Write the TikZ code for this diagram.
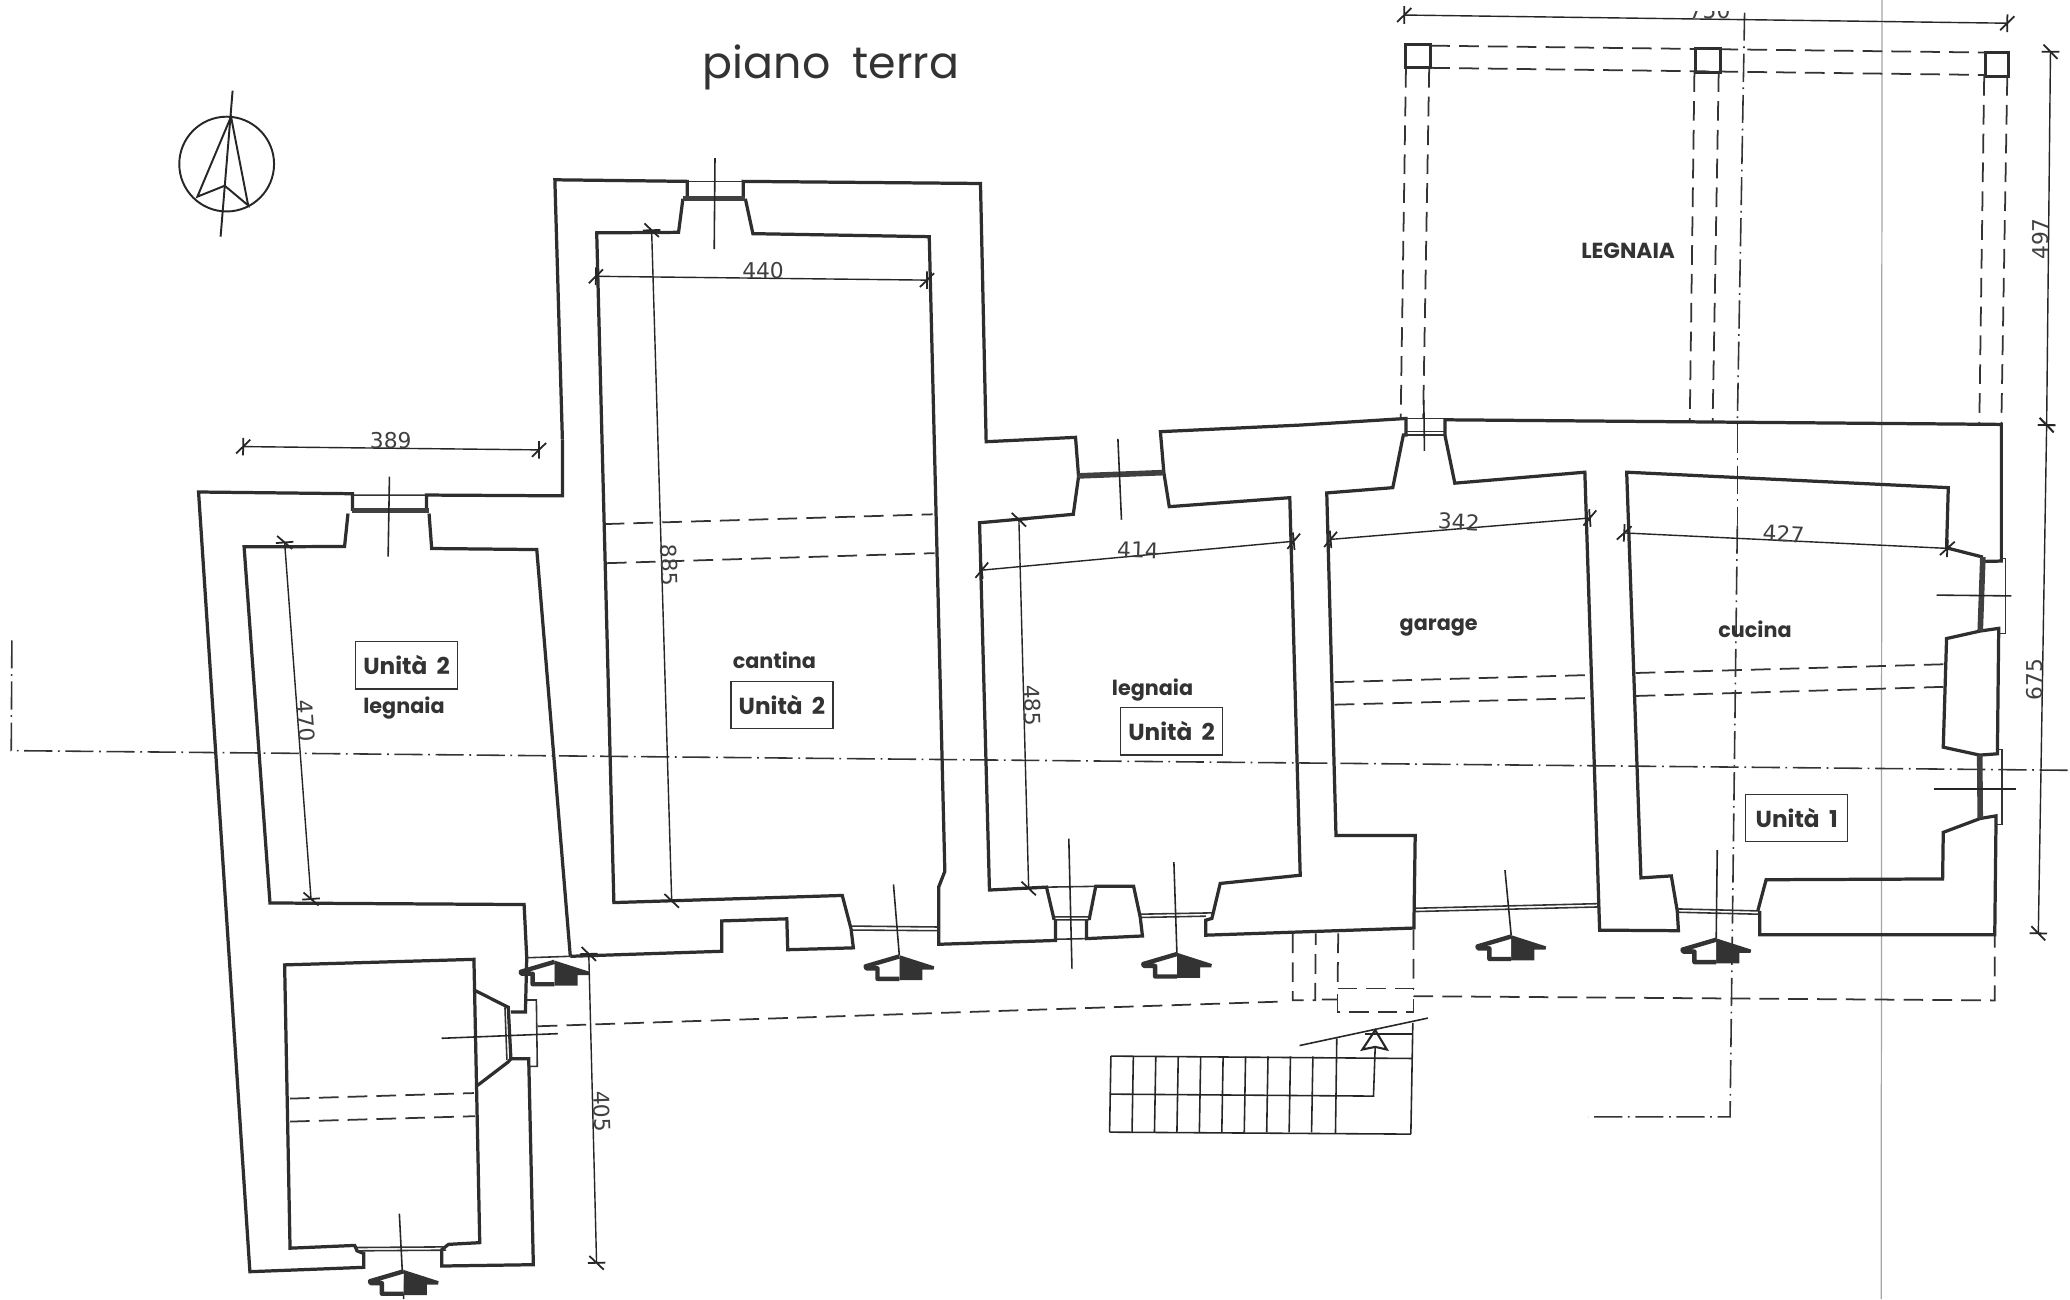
\documentclass[tikz,border=0pt]{standalone}
\usepackage{fontspec}
\setmainfont{Poppins}
\newfontfamily\dimfont{DejaVu Sans}
\usetikzlibrary{decorations.markings}
\tikzset{wall/.style={line width=0.92pt,line join=miter,black!82},
    thinwall/.style={line width=0.45pt,black!80},
    pane/.style={line width=1.6pt,black!75},
    hidden/.style={line width=0.5pt,black!80,dash pattern=on 5.6pt off 2.6pt},
    axisline/.style={line width=0.45pt,black!80,dash pattern=on 8pt off 1.6pt on 0.5pt off 1.6pt},
    cutline/.style={line width=0.45pt,black!85},
    stairline/.style={line width=0.45pt,black!85},
    roomlabel/.style={font=\fontsize{5.9}{7}\selectfont\bfseries,black!80,inner sep=0pt},
    unitbox/.style={draw,line width=0.4pt,black!80,font=\fontsize{6.6}{8}\selectfont\bfseries,minimum width=29pt,minimum height=13.5pt,inner sep=0pt},
    dimlabel/.style={font=\dimfont\fontsize{6.2}{7}\selectfont,black!75,inner sep=0pt},
    dimline/.style={line width=0.4pt,black!85,
        decoration={markings,
            mark=at position 0 with {\draw[line width=0.5pt] (-2pt,-2pt) -- (2pt,2pt) (0pt,-2.5pt) -- (0pt,2.5pt);},
            mark=at position 1 with {\draw[line width=0.5pt] (-2pt,-2pt) -- (2pt,2pt) (0pt,-2.5pt) -- (0pt,2.5pt);},
        },
        postaction={decorate}
    },
    pics/housemark/.style={code={
        \fill[black!80] (0,0) -- (26.5,8.5) -- (26,11) -- (17.5,11) -- (17.5,19) -- (0,19) -- cycle;
        \draw[line width=1.25pt,black!80,fill=white,line join=round] (0,1) -- (-25.5,8.5) -- (-25,10) -- (-16.5,10) -- (-16.5,18) -- (0,18);
    }}
}
\begin{document}
\begin{tikzpicture}[x=0.0132cm,y=-0.0132cm]
    \useasboundingbox[fill=white] (0,0) rectangle (1568,984);
    % scan edge
    \draw[line width=0.35pt,black!35] (1425.6,0) -- (1425,984);
    % axes
    \draw[axisline] (9,485) -- (8.5,568.6) -- (1567,583.5);
    \draw[axisline] (1321.5,9.5) -- (1316,321.5) (1316,398) -- (1310.5,846) -- (1203.3,846);
    \draw[axisline] (1316,321.5) -- (1316,398);
    % left block, outer wall
    \draw[wall] (426,333) -- (426,375.6) -- (323,375) -- (323,387) (267,387) -- (267,374) -- (150.4,372.7) -- (189.3,963.3) -- (275.5,960) -- (275.5,949.5) -- (270.4,947.5) -- (268.7,943.4) -- (219.7,945.5) -- (215.6,730.9) -- (359,726.7) -- (363.4,941.3) -- (339.7,942.6) -- (334.6,946.7) -- (334.6,959) -- (404,958) -- (400.5,802) -- (387,802);
    \draw[wall] (263.6,389) -- (261,414) -- (184.9,414.2) -- (204.5,684) -- (397,685.2) -- (399,725.5);
    \draw[wall] (325,389) -- (327,415.5) -- (406.6,416.3) -- (432,724.4);
    \draw[wall] (399,725.5) -- (398,766.6) -- (387,766.6);
    \draw[wall] (360,750.4) -- (385,763) -- (387,802) -- (385,804.4) -- (361.7,822.2);
    \draw[pane,line width=1.4pt] (267,387) -- (325,387);
    \draw[thinwall] (267,375) -- (323,375) (399,725.5) -- (432,724.4);
    \draw[thinwall] (399,757.5) -- (406.3,757.5) -- (407,807.8) -- (399.5,807.8) (382.5,763) -- (384,803);
    \draw[thinwall] (270.4,945) -- (338,944.5) (270.4,947.5) -- (338,947);
    % cantina
    \draw[wall] (426,333) -- (420.3,136.2) -- (520.6,137.4) -- (520.6,150.6) (563,150.6) -- (563,137.4) -- (742.7,139) -- (747,334.6) -- (814.7,331.3) -- (817,361);
    \draw[wall] (517.3,150.6) -- (514,176) -- (452,176.4) -- (465,683.7) -- (638,678.3) -- (644.7,703.8) -- (646.4,718) -- (596.7,719.4) -- (596,696) -- (546.7,697.6) -- (546.7,720.6) -- (432,724.4);
    \draw[wall] (564.6,150.6) -- (570.3,177) -- (703.9,179.3) -- (715.7,660) -- (711,672) -- (711,715.3) -- (799.5,712.4) -- (799.5,697);
    \draw[pane,line width=1.4pt] (517.3,150.6) -- (564.6,150.6);
    \draw[thinwall] (520.6,137.4) -- (563,137.4);
    \draw[thinwall] (644.7,701.5) -- (711,702.2) (644.7,704.5) -- (711,705);
    % legnaia
    \draw[wall] (817,361) -- (813,389.6) -- (742,396) -- (749.5,674.2) -- (792.7,672) -- (798.5,696.8) (825,696.8) -- (830,671.4) -- (858.7,671.4) -- (863.7,694.7) -- (865.4,709) -- (823,711) -- (823,697);
    \draw[wall] (881.6,358) -- (885.7,383.8) -- (977,377) -- (984.9,663) -- (924.3,669.2) -- (918,695.7) -- (913.4,697) -- (913.4,708.4) -- (1071,703) -- (1072,632.9) -- (1012,632.9) -- (1005,373.4) -- (1055,369.4) -- (1063,329.6) -- (1065,329.6) -- (1065,317) -- (985,322) -- (879,327) -- (881.6,358);
    \draw[pane] (817,360.5) -- (881.6,358);
    \draw[thinwall] (792.7,672) -- (830,671.4) (798.5,696.8) -- (825,696.8) (798.5,694.5) -- (825,694.5) (799.5,711.5) -- (823,711);
    \draw[thinwall] (863.7,692.5) -- (918,691.5) (863.7,695) -- (913.4,694);
    % garage and cucina
    \draw[wall] (1094.5,317) -- (1094.5,329.6) -- (1102,366) -- (1200.5,357.7) -- (1211.7,704.6) -- (1271.4,705) -- (1270.5,690) -- (1266,663.5) -- (1243,665) -- (1232.2,357.7) -- (1475.8,369.4) -- (1474.5,415) -- (1502,422);
    \draw[wall] (1094.5,318) -- (1516,321.5) -- (1516,425) -- (1502,425.3);
    \draw[wall] (1331.5,690) -- (1337.8,666.4) -- (1471.5,665.8) -- (1472,630.5) -- (1500,620) -- (1512,618) -- (1511,708) -- (1333,708) -- (1333,690);
    \draw[wall] (1500,478) -- (1474.5,483.7) -- (1472,566) -- (1499.6,572) -- (1513,571) -- (1514,476) -- (1500,478);
    \draw[pane] (1502,422) -- (1500,478) (1499.6,572) -- (1500,620);
    \draw[thinwall] (1065,317) -- (1094.5,317) (1063,329.6) -- (1094.5,329.6) (1064,327) -- (1094.5,327);
    \draw[thinwall] (1516,423) -- (1519,423) -- (1519,480) -- (1514,480) (1513,567.6) -- (1516.5,567.6) -- (1516.5,624.5) -- (1512,624.5);
    \draw[thinwall] (1072,688) -- (1211,684.5) (1072,690.5) -- (1211,687);
    \draw[thinwall] (1270.5,688.5) -- (1331.5,690) (1270.5,691) -- (1331.5,692.5);
    % beams
    \draw[hidden] (458,397) -- (706.5,389.6) (459.8,426.6) -- (708,419);
    \draw[hidden] (219.7,832.2) -- (359,828) (219.7,849.6) -- (360,845.5);
    \draw[hidden] (1011,516.7) -- (1205.4,511.3) (1011,533.8) -- (1205.4,528.7);
    \draw[hidden] (1239,509.8) -- (1472,503.2) (1239,527.2) -- (1472,520.3);
    % legnaia posts
    \draw[wall,line width=0.85pt] (1065,33.5) rectangle (1083.4,51.4);
    \draw[wall,line width=0.85pt] (1284.3,36.5) rectangle (1303,54.7);
    \draw[wall,line width=0.85pt] (1503.7,39.8) rectangle (1521.6,57.6);
    \draw[hidden] (1083.4,34.6) -- (1503.7,39.8) (1083.4,51.4) -- (1503.7,56.8);
    \draw[hidden] (1065,51.4) -- (1061,316.6) (1082.6,51.4) -- (1078,316.6);
    \draw[hidden] (1283.5,54.7) -- (1280,318.8) (1301.9,54.7) -- (1297.3,318.8);
    \draw[hidden] (1503,57.6) -- (1499.3,321.5) (1520.5,57.6) -- (1516,321.5);
    % outside the walls
    \draw[hidden] (407.3,777.4) -- (973.5,758.6);
    \draw[hidden] (979.3,707.1) -- (979.3,757.6) -- (996.2,757.6) -- (996.7,707);
    \draw[hidden] (1013.7,707) -- (1013.2,748.8) (1070.7,704.6) -- (1070.7,748.8) (1001.3,757.1) -- (1013.2,757.1);
    \draw[hidden] (1013.2,748.8) -- (1070.7,748.8) -- (1070.7,766.4) -- (1013.2,766.4) -- cycle;
    \draw[hidden] (1070.7,754.6) -- (1511,757.8) -- (1511,708);
    % stairs
    \draw[stairline] (841.5,800) -- (1070.2,801.8) (840.5,857.6) -- (1068.7,859.1) (841.5,800) -- (840.5,857.6);
    \foreach \s in {1,...,9} {
        \draw[stairline] (841.5+\s*17,800.2) -- (840.5+\s*17,857.8);
    }
    \draw[stairline] (1012.6,786.6) -- (1011.6,858.8);
    \draw[stairline] (1070.2,774.8) -- (1068.7,859.1);
    \draw[stairline] (1034,783.4) -- (1069.5,783.4);
    \draw[stairline] (984.4,792) -- (1081.6,771.2);
    \draw[stairline] (841.5,828.8) -- (1040.4,830.3) -- (1041.7,793);
    \draw[stairline,line width=0.6pt] (1041.7,780.3) -- (1032,795) -- (1041.7,793) -- (1050.5,795) -- cycle;
    % section marks
    \draw[cutline] (889.2,653) -- (891.5,722);
    \draw[cutline] (1140,659.1) -- (1144.7,708.4);
    \draw[cutline] (1300.8,644) -- (1300,711);
    \draw[cutline] (676.8,670) -- (681.2,723.5);
    \draw[cutline] (302.5,919.3) -- (305.8,984);
    \draw[cutline] (809.6,635.2) -- (812,733.8);
    \draw[cutline] (541.6,119.8) -- (541,188.8);
    \draw[cutline] (295,361) -- (294,421.7);
    \draw[cutline] (846.8,332.5) -- (849.5,393.7);
    \draw[cutline] (1078.5,303) -- (1079,341.5);
    \draw[cutline] (334.6,786.5) -- (422.5,783);
    \draw[cutline] (1467,450.8) -- (1523.6,451.4);
    \draw[cutline] (1464.8,597.6) -- (1527,597.6);
    \pic at (891.5,721.7) {housemark};
    \pic at (1144.7,708.4) {housemark};
    \pic at (1300,710.8) {housemark};
    \pic at (681.2,723.5) {housemark};
    \pic at (305.8,962) {housemark};
    \pic at (420,727.6) {housemark};
    % dimensions
    \draw[dimline] (184.2,338.3) -- (408.3,340.8);
    \draw[dimline] (215.6,410.9) -- (235.6,681);
    \draw[dimline] (493.6,174.4) -- (508.8,682.4);
    \draw[dimline] (451.4,209.3) -- (702.2,212.2);
    \draw[dimline] (743.7,431.9) -- (980,410);
    \draw[dimline] (771.8,393.7) -- (779.2,673);
    \draw[dimline] (1007.9,408.6) -- (1204.3,392.4);
    \draw[dimline] (1230.3,403.7) -- (1475.1,415.4);
    \draw[dimline] (446,722.6) -- (451.9,956.6);
    \draw[dimline] (1063.7,11.4) -- (1520.5,17.6);
    \draw[dimline] (1553.2,39.2) -- (1550.3,322);
    \draw[dimline] (1550.3,322) -- (1544,707);
    \node[dimlabel] (dimA) at (296,334) {389};
    \node[dimlabel,rotate=-86] (dimB) at (232,546) {470};
    \node[dimlabel,rotate=-88] (dimC) at (507,428) {885};
    \node[dimlabel] (dimD) at (578,205) {440};
    \node[dimlabel,rotate=-2] (dimE) at (862,416.5) {414};
    \node[dimlabel,rotate=-88] (dimF) at (782,534.5) {485};
    \node[dimlabel,rotate=-3] (dimG) at (1105,395.5) {342};
    \node[dimlabel,rotate=-3] (dimH) at (1351,404.5) {427};
    \node[dimlabel,rotate=-88] (dimI) at (456,842) {405};
    \node[dimlabel,rotate=90] (dimJ) at (1546,181) {497};
    \node[dimlabel,rotate=90] (dimK) at (1541.5,515) {675};
    \begin{scope}
        \clip (1250,9) rectangle (1340,20);
        \node[dimlabel] (dimL) at (1295,8) {750};
    \end{scope}
    % labels
    \node[font=\fontsize{12.6}{15}\selectfont,black!80,inner sep=0pt] (title) at (629.5,51) {piano\hspace{0.5em}terra};
    \node[roomlabel] (roomA) at (306,536.7) {legnaia};
    \node[roomlabel] (roomB) at (586.6,500.5) {cantina};
    \node[roomlabel] (roomC) at (873,523) {legnaia};
    \node[roomlabel] (roomD) at (1089.8,475) {garage};
    \node[roomlabel] (roomE) at (1329.4,476.3) {cucina};
    \node[roomlabel,font=\fontsize{6.2}{7}\selectfont\bfseries] (roomF) at (1233.3,190) {LEGNAIA};
    \node[unitbox] (unitA) at (308,504) {Unità\hspace{0.4em}2};
    \node[unitbox] (unitB) at (592.3,534) {Unità\hspace{0.4em}2};
    \node[unitbox] (unitC) at (887.5,554) {Unità\hspace{0.4em}2};
    \node[unitbox] (unitD) at (1361,619.6) {Unità\hspace{0.4em}1};
    % north arrow
    \draw[line width=0.55pt,black!85] (171.7,124.3) circle (35.9);
    \draw[line width=0.55pt,black!85] (176.2,68.7) -- (167.1,179.3);
    \draw[line width=0.55pt,black!85] (175,88.4) -- (149.5,149) -- (170.2,140.7) -- (188,155.6) -- cycle;
\end{tikzpicture}
\end{document}
